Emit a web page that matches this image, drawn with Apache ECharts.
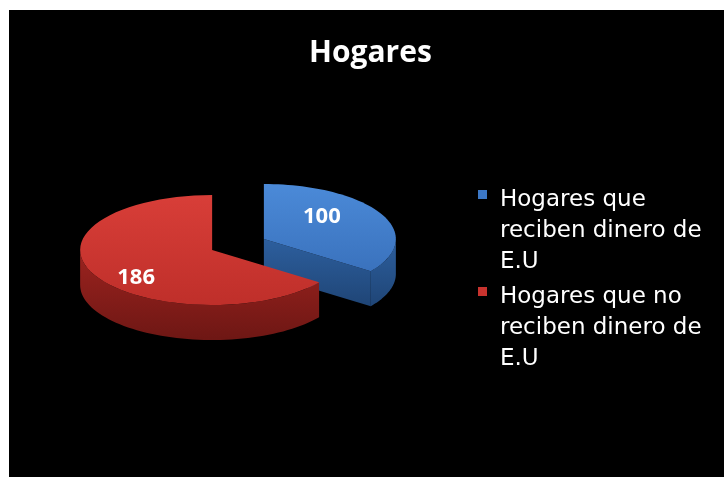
<!DOCTYPE html>
<html>
<head>
<meta charset="utf-8">
<script src="https://cdn.jsdelivr.net/npm/echarts@6/dist/echarts.min.js"></script>
<style>
  html, body { margin: 0; padding: 0; background: #fff; }
  #chart { position: absolute; left: 9px; top: 10px; width: 715px; height: 467px; }
</style>
</head>
<body>
<div id="chart"></div>
<script>
// data
const chartTitle = 'Hogares';
const categories = ['Hogares que reciben dinero de E.U', 'Hogares que no reciben dinero de E.U'];
const values = [100, 186];

// look
const topColors = [['#4b8ad8', '#3a72bd'], ['#d83e38', '#bf2f2a']];
const sideColors = [['#2d5f9e', '#1f4576'], ['#9c231f', '#6e1714']];
const legendColors = ['#3c78c6', '#c8332e'];
const FONT = '"Open Sans", "DejaVu Sans", sans-serif';
const LEGEND_FONT = '"DejaVu Sans", sans-serif';

// pie geometry (px inside the chart box)
const CX = 229, CY = 234.5;
const RX = 132, RY = 55, DEPTH = 35, EXPLODE = 0.22;
const LABEL_DX = -9, LABEL_DY = 3;

const total = values.reduce((a, b) => a + b, 0);

function ellipsePt(cx, cy, a, dy) {
    return [cx + RX * Math.sin(a), cy - RY * Math.cos(a) + dy];
}

function arcPts(cx, cy, from, to, dy) {
    const pts = [];
    const steps = 60;
    for (let s = 0; s <= steps; s++) {
        pts.push(ellipsePt(cx, cy, from + (to - from) * s / steps, dy));
    }
    return pts;
}

function makeRender(idx) {
    return function (params, api) {
        let start = 0;
        for (let k = 0; k < idx; k++) start += values[k];
        const a0 = start / total * Math.PI * 2;
        const a1 = (start + values[idx]) / total * Math.PI * 2;
        const mid = (a0 + a1) / 2;
        const cx = CX + EXPLODE * RX * Math.sin(mid);
        const cy = CY - EXPLODE * RY * Math.cos(mid);

        const sideFill = new echarts.graphic.LinearGradient(0, 0, 0, 1, [
            { offset: 0, color: sideColors[idx][0] },
            { offset: 1, color: sideColors[idx][1] }
        ]);
        const topFill = new echarts.graphic.LinearGradient(0, 0, 0, 1, [
            { offset: 0, color: topColors[idx][0] },
            { offset: 1, color: topColors[idx][1] }
        ]);
        const children = [];

        // cut faces that look to the front
        [[a0, a0 - Math.PI / 2], [a1, a1 + Math.PI / 2]].forEach(function (f) {
            if (Math.cos(f[1]) < -1e-6) {
                const p = ellipsePt(cx, cy, f[0], 0);
                children.push({
                    type: 'polygon',
                    shape: { points: [[cx, cy], p, [p[0], p[1] + DEPTH], [cx, cy + DEPTH]] },
                    style: { fill: sideFill }
                });
            }
        });

        // outer wall, front half only
        const s = Math.max(a0, Math.PI / 2), e = Math.min(a1, Math.PI * 1.5);
        if (e > s) {
            const pts = arcPts(cx, cy, s, e, 0).concat(arcPts(cx, cy, e, s, DEPTH));
            children.push({ type: 'polygon', shape: { points: pts }, style: { fill: sideFill } });
        }

        // top
        children.push({
            type: 'polygon',
            shape: { points: [[cx, cy]].concat(arcPts(cx, cy, a0, a1, 0)) },
            style: { fill: topFill }
        });

        // value label
        children.push({
            type: 'text',
            x: cx + 0.57 * RX * Math.sin(mid) + LABEL_DX,
            y: cy - RY * Math.cos(mid) + LABEL_DY,
            style: {
                text: String(values[idx]),
                fill: '#fff',
                font: 'bold 22px ' + FONT,
                align: 'center',
                verticalAlign: 'middle'
            }
        });
        return { type: 'group', children: children };
    };
}

function wrapName(name) {
    return name === categories[0]
        ? 'Hogares que\nreciben dinero de\nE.U'
        : 'Hogares que no\nreciben dinero de\nE.U';
}

const chart = echarts.init(document.getElementById('chart'));
chart.setOption({
    backgroundColor: '#000',
    animation: false,
    title: {
        text: chartTitle,
        left: 300,
        top: 28,
        padding: 0,
        textStyle: { color: '#fff', fontFamily: FONT, fontWeight: 'bold', fontSize: 30 }
    },
    legend: {
        data: categories,
        orient: 'vertical',
        left: 469,
        top: 174.5,
        padding: 0,
        itemGap: 4,
        // tall icon box so the square sits beside the first text line
        icon: 'path://M0,11h9v9h-9z M8.99,92.99h0.01v0.01h-0.01z',
        itemWidth: 9,
        itemHeight: 93,
        selectedMode: false,
        formatter: wrapName,
        textStyle: {
            color: '#fff',
            fontFamily: LEGEND_FONT,
            fontSize: 23,
            lineHeight: 31,
            padding: [0, 0, 0, 8]
        }
    },
    series: categories.map(function (name, idx) {
        return {
            type: 'custom',
            name: name,
            coordinateSystem: 'none',
            itemStyle: { color: legendColors[idx] },
            renderItem: makeRender(idx),
            data: [values[idx]]
        };
    })
});
</script>
</body>
</html>
